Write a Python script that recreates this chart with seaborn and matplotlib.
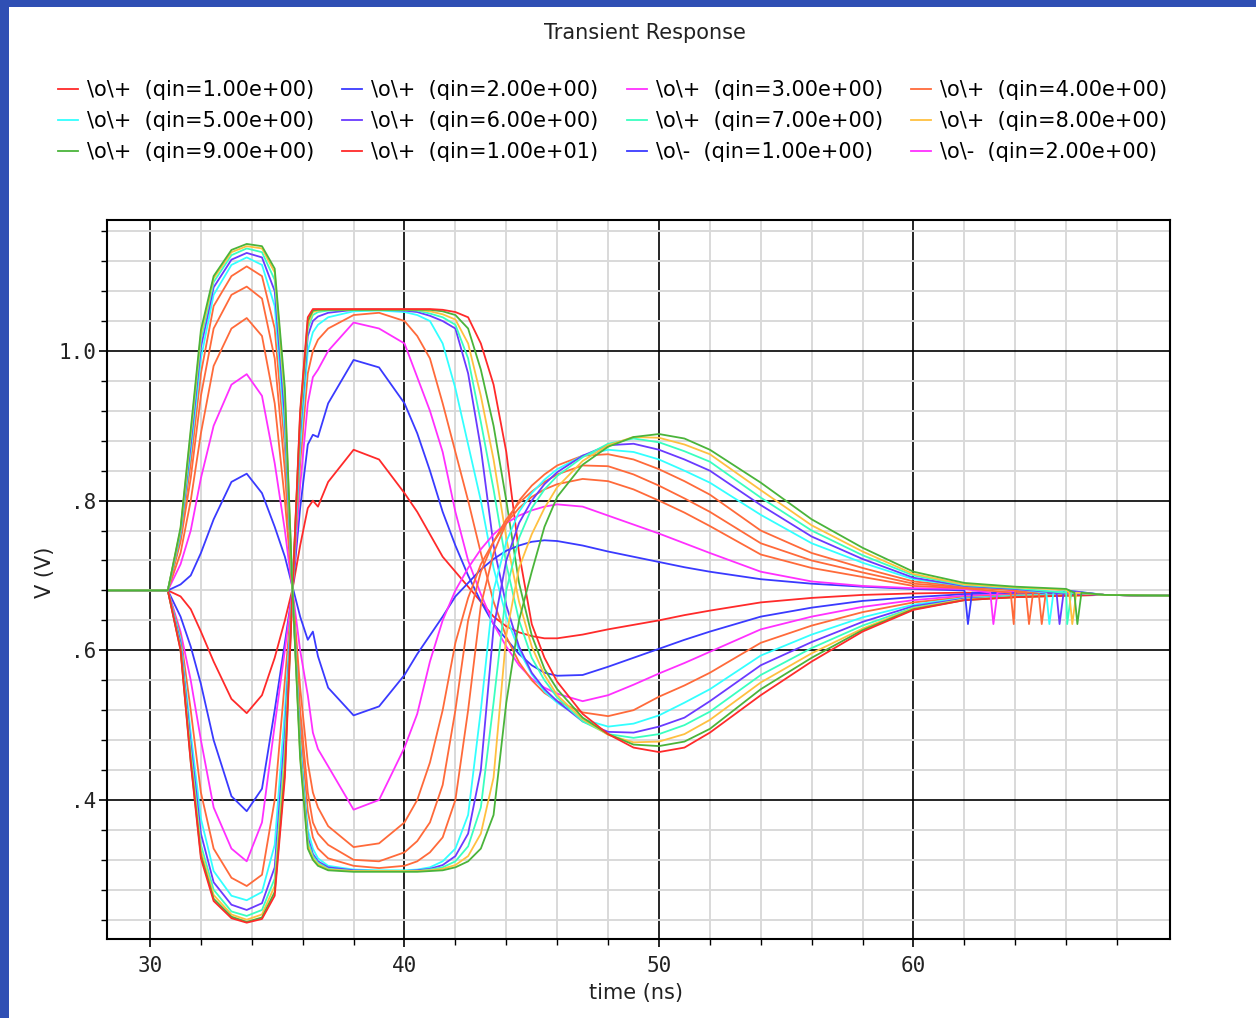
import numpy as np
import pandas as pd
import matplotlib.pyplot as plt
from matplotlib.patches import Rectangle
import seaborn as sns

# time grid (ns) shared by all traces
T = [28.3, 30.7,
     31.2, 31.6, 32.0, 32.5, 33.2, 33.8, 34.4, 34.9, 35.3,
     35.6, 35.9, 36.2, 36.4, 36.6, 37.0, 38.0, 39.0,
     40.0, 40.5, 41.0, 41.5, 42.0, 42.5, 43.0, 43.5, 44.0, 44.5, 45.0, 45.5, 46.0,
     47.0, 48.0, 49.0, 50.0, 51.0, 52.0,
     54.0, 56.0, 58.0, 60.0, 62.0, 64.0, 66.0, 67.5, 70.1]

QIN = [1, 2, 3, 4, 5, 6, 7, 8, 9, 10]

# \o\+ traces
OP_Q1 = [0.68, 0.68,
         0.672, 0.655, 0.625, 0.585, 0.535, 0.516, 0.54, 0.59, 0.64,
         0.682, 0.74, 0.79, 0.80, 0.792, 0.825, 0.868, 0.855,
         0.81, 0.785, 0.755, 0.725, 0.705, 0.685, 0.665, 0.645, 0.632, 0.624, 0.619, 0.616, 0.616,
         0.621, 0.628, 0.634, 0.64, 0.647, 0.653,
         0.664, 0.67, 0.674, 0.676, 0.677, 0.677, 0.676, 0.674, 0.673]
OP_Q2 = [0.68, 0.68,
         0.645, 0.605, 0.555, 0.48, 0.405, 0.385, 0.415, 0.52, 0.61,
         0.68, 0.79, 0.875, 0.888, 0.885, 0.93, 0.988, 0.978,
         0.93, 0.89, 0.84, 0.785, 0.74, 0.70, 0.665, 0.635, 0.615, 0.595, 0.58, 0.57, 0.566,
         0.567, 0.578, 0.59, 0.602, 0.614, 0.625,
         0.645, 0.657, 0.666, 0.671, 0.675, 0.676, 0.676, 0.674, 0.673]
OP_Q3 = [0.68, 0.68,
         0.625, 0.56, 0.48, 0.39, 0.335, 0.318, 0.37, 0.50, 0.60,
         0.68, 0.82, 0.93, 0.965, 0.975, 1.0, 1.038, 1.03,
         1.01, 0.965, 0.92, 0.865, 0.785, 0.72, 0.675, 0.635, 0.605, 0.58, 0.562, 0.55, 0.542,
         0.532, 0.54, 0.554, 0.569, 0.583, 0.598,
         0.628, 0.645, 0.658, 0.667, 0.673, 0.675, 0.676, 0.674, 0.673]
OP_Q4 = [0.68, 0.68,
         0.62, 0.52, 0.41, 0.335, 0.296, 0.285, 0.30, 0.40, 0.56,
         0.68, 0.85, 0.97, 1.0, 1.015, 1.03, 1.048, 1.051,
         1.04, 1.02, 0.99, 0.93, 0.865, 0.80, 0.73, 0.665, 0.618, 0.584, 0.56, 0.543, 0.532,
         0.517, 0.512, 0.52, 0.538, 0.553, 0.57,
         0.61, 0.633, 0.651, 0.664, 0.671, 0.674, 0.675, 0.674, 0.673]
OP_Q5 = [0.68, 0.68,
         0.615, 0.49, 0.375, 0.305, 0.272, 0.266, 0.277, 0.34, 0.52,
         0.68, 0.87, 1.0, 1.025, 1.035, 1.045, 1.053, 1.054,
         1.052, 1.048, 1.04, 1.01, 0.95, 0.875, 0.80, 0.71, 0.645, 0.60, 0.568, 0.545, 0.53,
         0.508, 0.498, 0.502, 0.513, 0.53, 0.548,
         0.593, 0.621, 0.644, 0.661, 0.67, 0.673, 0.675, 0.674, 0.673]
OP_Q6 = [0.68, 0.68,
         0.61, 0.475, 0.355, 0.29, 0.26, 0.253, 0.262, 0.31, 0.49,
         0.68, 0.89, 1.02, 1.04, 1.046, 1.051, 1.055, 1.055,
         1.054, 1.052, 1.047, 1.04, 1.03, 0.97, 0.87, 0.74, 0.66, 0.605, 0.57, 0.548, 0.532,
         0.505, 0.491, 0.49, 0.498, 0.51, 0.532,
         0.58, 0.611, 0.638, 0.659, 0.669, 0.672, 0.674, 0.674, 0.673]
OP_Q7 = [0.68, 0.68,
         0.605, 0.465, 0.34, 0.28, 0.251, 0.245, 0.253, 0.295, 0.47,
         0.68, 0.90, 1.03, 1.048, 1.052, 1.054, 1.055, 1.055,
         1.055, 1.054, 1.05, 1.045, 1.035, 0.99, 0.905, 0.815, 0.715, 0.64, 0.59, 0.56, 0.537,
         0.505, 0.488, 0.483, 0.488, 0.50, 0.518,
         0.567, 0.603, 0.633, 0.657, 0.668, 0.672, 0.674, 0.674, 0.673]
OP_Q8 = [0.68, 0.68,
         0.603, 0.458, 0.332, 0.273, 0.247, 0.24, 0.247, 0.285, 0.455,
         0.68, 0.91, 1.035, 1.052, 1.054, 1.055, 1.055, 1.055,
         1.055, 1.055, 1.053, 1.049, 1.042, 1.01, 0.94, 0.855, 0.75, 0.665, 0.605, 0.567, 0.54,
         0.508, 0.487, 0.477, 0.478, 0.488, 0.507,
         0.557, 0.596, 0.629, 0.656, 0.668, 0.671, 0.674, 0.674, 0.673]
OP_Q9 = [0.68, 0.68,
         0.601, 0.452, 0.326, 0.268, 0.244, 0.237, 0.243, 0.277, 0.44,
         0.68, 0.915, 1.04, 1.054, 1.055, 1.055, 1.055, 1.055,
         1.055, 1.055, 1.055, 1.053, 1.048, 1.03, 0.975, 0.90, 0.80, 0.69, 0.62, 0.575, 0.548,
         0.51, 0.488, 0.474, 0.472, 0.478, 0.495,
         0.548, 0.59, 0.627, 0.655, 0.667, 0.671, 0.673, 0.674, 0.673]
OP_Q10 = [0.68, 0.68,
          0.60, 0.45, 0.322, 0.265, 0.242, 0.236, 0.241, 0.272, 0.43,
          0.68, 0.92, 1.045, 1.056, 1.056, 1.056, 1.056, 1.056,
          1.056, 1.056, 1.056, 1.055, 1.052, 1.045, 1.01, 0.955, 0.865, 0.73, 0.635, 0.59, 0.558,
          0.515, 0.488, 0.47, 0.464, 0.47, 0.49,
          0.54, 0.585, 0.625, 0.654, 0.667, 0.671, 0.673, 0.674, 0.673]

# \o\- traces
OM_Q1 = [0.68, 0.68,
         0.688, 0.70, 0.73, 0.775, 0.825, 0.836, 0.81, 0.765, 0.725,
         0.685, 0.645, 0.614, 0.625, 0.592, 0.55, 0.513, 0.525,
         0.567, 0.595, 0.62, 0.645, 0.672, 0.69, 0.708, 0.722, 0.733, 0.74, 0.745, 0.747, 0.746,
         0.74, 0.732, 0.725, 0.718, 0.711, 0.705,
         0.695, 0.689, 0.685, 0.682, 0.68, 0.677, 0.676, 0.674, 0.673]
OM_Q2 = [0.68, 0.68,
         0.715, 0.76, 0.83, 0.90, 0.955, 0.969, 0.94, 0.85, 0.76,
         0.68, 0.60, 0.54, 0.49, 0.468, 0.445, 0.387, 0.40,
         0.47, 0.515, 0.585, 0.64, 0.68, 0.71, 0.735, 0.755, 0.77, 0.78, 0.787, 0.792, 0.795,
         0.792, 0.78, 0.768, 0.756, 0.743, 0.73,
         0.705, 0.692, 0.686, 0.683, 0.682, 0.679, 0.677, 0.674, 0.673]
OM_Q3 = [0.68, 0.68,
         0.73, 0.80, 0.89, 0.98, 1.03, 1.044, 1.02, 0.93, 0.80,
         0.68, 0.55, 0.45, 0.41, 0.39, 0.365, 0.337, 0.342,
         0.37, 0.40, 0.45, 0.52, 0.61, 0.67, 0.715, 0.745, 0.77, 0.79, 0.805, 0.815, 0.822,
         0.829, 0.826, 0.815, 0.80, 0.784, 0.766,
         0.728, 0.71, 0.698, 0.686, 0.683, 0.68, 0.678, 0.674, 0.673]
OM_Q4 = [0.68, 0.68,
         0.745, 0.83, 0.94, 1.03, 1.075, 1.086, 1.07, 0.99, 0.84,
         0.68, 0.52, 0.41, 0.37, 0.355, 0.34, 0.32, 0.318,
         0.33, 0.345, 0.37, 0.42, 0.52, 0.64, 0.705, 0.745, 0.775, 0.797, 0.812, 0.825, 0.835,
         0.847, 0.846, 0.835, 0.82, 0.803, 0.785,
         0.743, 0.72, 0.704, 0.689, 0.684, 0.68, 0.679, 0.674, 0.673]
OM_Q5 = [0.68, 0.68,
         0.75, 0.85, 0.97, 1.06, 1.10, 1.113, 1.10, 1.03, 0.87,
         0.68, 0.50, 0.385, 0.35, 0.335, 0.322, 0.312, 0.309,
         0.312, 0.318, 0.33, 0.35, 0.40, 0.52, 0.66, 0.73, 0.77, 0.80, 0.82, 0.835, 0.847,
         0.86, 0.862, 0.855, 0.842, 0.826, 0.808,
         0.76, 0.73, 0.71, 0.692, 0.685, 0.681, 0.679, 0.674, 0.673]
OM_Q6 = [0.68, 0.68,
         0.755, 0.865, 0.99, 1.075, 1.115, 1.125, 1.115, 1.06, 0.89,
         0.68, 0.48, 0.36, 0.335, 0.322, 0.312, 0.307, 0.306,
         0.306, 0.307, 0.31, 0.318, 0.335, 0.38, 0.52, 0.68, 0.745, 0.785, 0.81, 0.828, 0.842,
         0.86, 0.868, 0.865, 0.855, 0.84, 0.824,
         0.781, 0.743, 0.717, 0.695, 0.686, 0.682, 0.68, 0.674, 0.673]
OM_Q7 = [0.68, 0.68,
         0.758, 0.875, 1.005, 1.085, 1.122, 1.131, 1.125, 1.08, 0.91,
         0.68, 0.47, 0.35, 0.328, 0.318, 0.31, 0.306, 0.305,
         0.305, 0.306, 0.308, 0.313, 0.325, 0.355, 0.44, 0.63, 0.72, 0.77, 0.80, 0.822, 0.838,
         0.86, 0.874, 0.876, 0.868, 0.855, 0.84,
         0.794, 0.752, 0.722, 0.697, 0.686, 0.682, 0.68, 0.674, 0.673]
OM_Q8 = [0.68, 0.68,
         0.76, 0.885, 1.015, 1.092, 1.128, 1.137, 1.132, 1.095, 0.93,
         0.68, 0.465, 0.345, 0.325, 0.316, 0.308, 0.305, 0.305,
         0.305, 0.305, 0.307, 0.31, 0.318, 0.338, 0.39, 0.53, 0.68, 0.75, 0.79, 0.815, 0.833,
         0.858, 0.876, 0.883, 0.878, 0.866, 0.852,
         0.804, 0.76, 0.727, 0.70, 0.687, 0.683, 0.68, 0.674, 0.673]
OM_Q9 = [0.68, 0.68,
         0.762, 0.89, 1.022, 1.097, 1.132, 1.14, 1.137, 1.105, 0.94,
         0.68, 0.46, 0.34, 0.322, 0.314, 0.307, 0.305, 0.305,
         0.305, 0.305, 0.306, 0.308, 0.313, 0.325, 0.355, 0.43, 0.62, 0.71, 0.755, 0.79, 0.818,
         0.853, 0.874, 0.885, 0.884, 0.875, 0.862,
         0.814, 0.767, 0.732, 0.702, 0.688, 0.684, 0.681, 0.674, 0.673]
OM_Q10 = [0.68, 0.68,
          0.764, 0.895, 1.028, 1.10, 1.135, 1.143, 1.14, 1.11, 0.95,
          0.68, 0.455, 0.335, 0.32, 0.312, 0.306, 0.304, 0.304,
          0.304, 0.304, 0.305, 0.306, 0.31, 0.318, 0.335, 0.38, 0.53, 0.64, 0.705, 0.765, 0.805,
          0.848, 0.872, 0.885, 0.889, 0.883, 0.868,
          0.824, 0.775, 0.737, 0.705, 0.69, 0.685, 0.682, 0.674, 0.673]

# ringing glitches on the \o\- traces near the end
SPIKE_T = [62.1, 63.1, 63.9, 64.5, 65.0, 65.3, 65.7, 66.0, 66.2, 66.4]
SPIKE_TOP = 0.677
SPIKE_LOW = 0.635

RED, BLUE, MAGENTA = '#ff2a2a', '#3a3aff', '#ff30ff'
ORANGE, CYAN, PURPLE = '#ff6a3a', '#33ffff', '#6a3aff'
AQUA, GOLD, GREEN = '#3affc0', '#ffc040', '#4ab43a'
OP_COLORS = [RED, BLUE, MAGENTA, ORANGE, CYAN, PURPLE, AQUA, GOLD, GREEN, RED]
OM_COLORS = [BLUE, MAGENTA, ORANGE, ORANGE, ORANGE, CYAN, PURPLE, AQUA, GOLD, GREEN]

plus = [OP_Q1, OP_Q2, OP_Q3, OP_Q4, OP_Q5, OP_Q6, OP_Q7, OP_Q8, OP_Q9, OP_Q10]
minus = [OM_Q1, OM_Q2, OM_Q3, OM_Q4, OM_Q5, OM_Q6, OM_Q7, OM_Q8, OM_Q9, OM_Q10]

rows, names, palette = [], [], {}
for q, vals, col in zip(QIN, plus, OP_COLORS):
    name = f'\\o\\+  (qin={q:.2e})'
    names.append(name)
    palette[name] = col
    rows += [(name, t, v) for t, v in zip(T, vals)]
for q, vals, col, ts in zip(QIN, minus, OM_COLORS, SPIKE_T):
    name = f'\\o\\-  (qin={q:.2e})'
    names.append(name)
    palette[name] = col
    rows += [(name, t, v) for t, v in zip(T, vals)]
    rows += [(name, ts - 0.08, SPIKE_TOP), (name, ts + 0.04, SPIKE_LOW),
             (name, ts + 0.2, SPIKE_TOP)]
df = pd.DataFrame(rows, columns=['curve', 'time', 'v'])

plt.rcParams['font.family'] = ['DejaVu Sans']

W, H = 1256, 1018
fig = plt.figure(figsize=(W / 100, H / 100), dpi=100)
fig.patch.set_facecolor('#2f4fb4')
fig.add_artist(Rectangle((9 / W, 0), 1, 1 - 7 / H, transform=fig.transFigure,
                         facecolor='white', edgecolor='none', zorder=-1))

ax = fig.add_axes([107 / W, 1 - 939 / H, (1170 - 107) / W, (939 - 220) / H])
sns.lineplot(data=df, x='time', y='v', hue='curve', hue_order=names,
             palette=palette, estimator=None, sort=True, legend=False,
             lw=1.3, ax=ax)

ax.set_xlim(28.31, 70.08)
ax.set_ylim(0.2142, 1.175)
ax.set_xticks([30, 40, 50, 60])
ax.set_xticks(np.arange(32, 70, 2), minor=True)
ax.set_yticks([0.4, 0.6, 0.8, 1.0], labels=['.4', '.6', '.8', '1.0'])
ax.set_yticks(np.arange(0.24, 1.17, 0.04), minor=True)
ax.grid(which='minor', color='#d9d9d9', lw=1.4)
ax.grid(which='major', color='black', lw=1.2)
ax.set_axisbelow(True)
for s in ax.spines.values():
    s.set_color('black')
    s.set_linewidth(1.5)
ax.tick_params(axis='y', which='major', length=6, width=1.2, direction='out',
               pad=1.5, labelsize=15, colors='black')
ax.tick_params(axis='x', which='major', length=6, width=1.2, direction='out',
               pad=6, labelsize=15, colors='black')
ax.tick_params(which='minor', length=4, width=1.0, direction='out')
for lab in ax.get_xticklabels() + ax.get_yticklabels():
    lab.set_fontfamily('DejaVu Sans Mono')
    lab.set_color('#222222')
ax.set_xlabel('')
ax.set_ylabel('')

fig.text(645 / W, 1 - 33 / H, 'Transient Response', ha='center', va='center',
         fontsize=15, color='#222222')
fig.text(636 / W, 1 - 993 / H, 'time (ns)', ha='center', va='center',
         fontsize=15, color='#222222')
fig.text(45 / W, 1 - 572 / H, 'V (V)', ha='center', va='center', rotation=90,
         fontsize=15, color='#222222')

# legend shows the first 12 traces, filled row by row
lines = ax.get_lines()[:12]
order = [0, 4, 8, 1, 5, 9, 2, 6, 10, 3, 7, 11]
fig.legend([lines[i] for i in order], [names[i] for i in order], ncol=4,
           loc='upper left', bbox_to_anchor=(58 / W, 1 - 80 / H),
           frameon=False, fontsize=15, handlelength=0.96, handletextpad=0.43,
           columnspacing=1.35, labelspacing=0.53, borderpad=0, borderaxespad=0)

fig.savefig('out.png', dpi=100, facecolor=fig.get_facecolor())
